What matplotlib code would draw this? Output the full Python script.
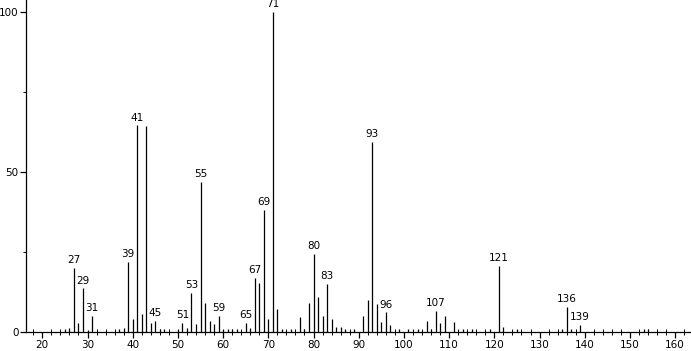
import numpy as np
import matplotlib
matplotlib.use("Agg")
from matplotlib import pyplot as plt

# m/z values and relative intensities
mz = [25, 26, 27, 28, 29, 30, 31, 37, 38, 39, 40, 41, 42, 43, 44, 45, 46, 47,
      50, 51, 52, 53, 54, 55, 56, 57, 58, 59, 60, 61, 62, 63, 65, 66, 67, 68,
      69, 70, 71, 72, 73, 75, 77, 78, 79, 80, 81, 82, 83, 84, 85, 86, 87, 89,
      91, 92, 93, 94, 95, 96, 97, 99, 101, 103, 105, 106, 107, 108, 109, 111,
      113, 115, 119, 121, 122, 125, 135, 136, 137, 139, 153, 154]
intensity = [0.8, 1.3, 20.1, 2.9, 13.6, 0.6, 5.1, 0.8, 1.2, 21.8, 4.1, 64.6,
             5.6, 64.4, 2.9, 3.4, 1.0, 1.0, 0.8, 2.9, 1.2, 12.3, 2.4, 46.8,
             9.2, 3.5, 2.5, 5.1, 0.8, 0.8, 0.8, 0.8, 2.9, 1.3, 17.0, 15.4,
             38.1, 4.1, 100.0, 7.2, 0.8, 0.8, 4.6, 1.0, 9.2, 24.4, 11.0, 5.1,
             15.0, 4.1, 1.7, 1.7, 0.8, 0.8, 5.1, 10.0, 59.5, 8.75, 3.2, 6.1,
             2.3, 0.8, 0.8, 0.8, 3.4, 1.0, 6.6, 2.9, 5.0, 3.2, 0.8, 0.8, 1.0,
             20.7, 1.6, 0.8, 1.0, 7.9, 1.0, 2.3, 0.8, 0.8]
labelled = [27, 29, 31, 39, 41, 45, 51, 53, 55, 59, 65, 67, 69, 71, 80, 83,
            93, 96, 107, 121, 136, 139]
x_ticks = [20, 30, 40, 50, 60, 70, 80, 90, 100, 110, 120, 130, 140, 150, 160]
y_ticks = [0, 50, 100]

fig = plt.figure(figsize=(6.91, 3.51), dpi=100)
ax = fig.add_axes([0.0372, 0.0541, 0.9628, 0.9459])

ax.vlines(mz, 0, intensity, color="black", linewidth=0.9)

lookup = dict(zip(mz, intensity))
for m in labelled:
    ax.annotate(str(m), (m, lookup[m]), xytext=(0, 2), textcoords="offset points",
                ha="center", va="bottom", fontsize=7.5, color="black")

ax.set_xlim(16.33, 163.5)
ax.set_ylim(0, 103.75)
ax.spines["top"].set_visible(False)
ax.spines["right"].set_visible(False)
ax.spines["left"].set_linewidth(0.9)
ax.spines["bottom"].set_linewidth(0.9)

ax.set_xticks(x_ticks)
ax.set_xticks(np.arange(18, 164, 2), minor=True)
ax.set_yticks(y_ticks)
ax.set_yticks([25, 75], minor=True)
ax.tick_params(axis="x", which="major", direction="out", length=4, width=0.9,
               labelsize=7.5, pad=2)
ax.tick_params(axis="x", which="minor", direction="inout", length=4, width=0.7)
ax.tick_params(axis="y", which="major", direction="out", length=4, width=0.9,
               labelsize=7.5, pad=1)
ax.tick_params(axis="y", which="minor", direction="out", length=2, width=0.7)

fig.savefig("out.png", dpi=100)
